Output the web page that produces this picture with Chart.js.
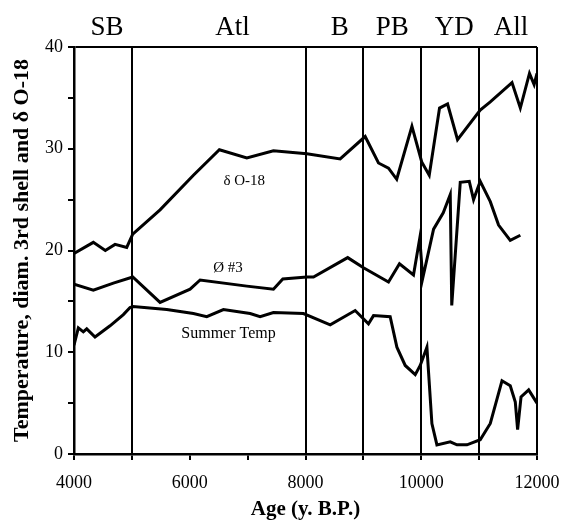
<!DOCTYPE html>
<html>
<head>
<meta charset="utf-8">
<script src="https://cdn.jsdelivr.net/npm/chart.js@4/dist/chart.umd.min.js"></script>
<style>
  html, body { margin: 0; padding: 0; background: #fff; }
  #wrap { width: 562px; height: 522px; position: relative; }
</style>
</head>
<body>
<div id="wrap"><canvas id="c" width="562" height="522"></canvas></div>
<script>
// ---- data ----
const o18Age  = [4000, 4334, 4541, 4709, 4911, 5015, 5487, 6063, 6512, 6986, 7446, 8023, 8599, 9031, 9261, 9434, 9576, 9839, 10008, 10138, 10316, 10455, 10627, 11019, 11193, 11568, 11712, 11870, 11950, 12000];
const o18Val  = [19.7, 20.8, 20.0, 20.6, 20.3, 21.6, 24.0, 27.4, 29.9, 29.1, 29.8, 29.5, 29.0, 31.2, 28.6, 28.1, 27.0, 32.2, 28.7, 27.4, 34.0, 34.4, 30.9, 33.8, 34.6, 36.5, 34.0, 37.4, 36.3, 37.4];

const diamAge = [4000, 4334, 4680, 5015, 5487, 6006, 6179, 6986, 7446, 7608, 8023, 8138, 8729, 9002, 9434, 9624, 9866, 9974, 10026, 10213, 10380, 10501, 10527, 10674, 10830, 10904, 11019, 11193, 11336, 11538, 11712];
const diamVal = [16.7, 16.1, 16.8, 17.4, 14.9, 16.2, 17.1, 16.5, 16.2, 17.2, 17.4, 17.4, 19.3, 18.3, 16.9, 18.7, 17.6, 21.2, 17.3, 22.1, 23.7, 25.5, 14.6, 26.7, 26.8, 25.0, 26.8, 24.8, 22.5, 21.0, 21.5];

const tempAge = [4000, 4075, 4161, 4220, 4363, 4623, 4853, 4968, 5020, 5603, 6063, 6294, 6582, 7043, 7216, 7446, 7965, 8427, 8858, 9088, 9175, 9463, 9579, 9723, 9896, 9982, 10098, 10184, 10271, 10501, 10617, 10790, 11019, 11193, 11395, 11538, 11625, 11665, 11724, 11856, 12000];
const tempVal = [10.7, 12.4, 12.0, 12.3, 11.5, 12.6, 13.7, 14.4, 14.5, 14.2, 13.8, 13.5, 14.2, 13.8, 13.5, 13.9, 13.8, 12.7, 14.1, 12.8, 13.6, 13.5, 10.5, 8.7, 7.8, 8.7, 10.5, 3.0, 0.9, 1.2, 0.9, 0.9, 1.4, 3.0, 7.2, 6.7, 5.1, 2.4, 5.6, 6.3, 5.0];

const seriesNames  = ['δ O-18', 'Ø #3', 'Summer Temp'];
const seriesLabelAge = [6941, 6660, 6670];
const seriesLabelVal = [26.8, 18.3, 11.85];

const periodNames  = ['SB', 'Atl', 'B', 'PB', 'YD', 'All'];
const periodLabelAge = [4570, 6740, 8590, 9500, 10570, 11550];
const periodBounds = [5000, 8000, 9000, 10000, 11000, 12000];

const xTickStep = 1000, xLabelStep = 2000;
const yTickStep = 5, yLabelStep = 10;
const xMin = 4000, xMax = 12000, yMin = 0, yMax = 40;

const xTitle = 'Age (y. B.P.)';
const yTitle = 'Temperature, diam. 3rd shell and δ O-18';

// ---- chart ----
const SERIF = "'Liberation Serif', 'Times New Roman', Times, serif";
Chart.defaults.font.family = SERIF;
Chart.defaults.color = '#000';

function pts(a, v) { return a.map((x, i) => ({ x: x, y: v[i] })); }

const lineStyle = { showLine: true, borderColor: '#000', borderWidth: 3, pointRadius: 0, tension: 0, fill: false, borderJoinStyle: 'miter', borderCapStyle: 'butt' };

const textPlugin = {
  id: 'texts',
  afterDatasetsDraw(chart) {
    const ctx = chart.ctx, xs = chart.scales.x, ys = chart.scales.y;
    ctx.save();
    ctx.fillStyle = '#000';
    ctx.textAlign = 'center';
    ctx.textBaseline = 'middle';
    seriesNames.forEach((n, i) => {
      ctx.font = (i === 2 ? '16px ' : '15px ') + SERIF;
      ctx.fillText(n, xs.getPixelForValue(seriesLabelAge[i]), ys.getPixelForValue(seriesLabelVal[i]));
    });
    ctx.font = '27px ' + SERIF;
    ctx.textBaseline = 'alphabetic';
    periodNames.forEach((n, i) => {
      ctx.fillText(n, xs.getPixelForValue(periodLabelAge[i]), chart.chartArea.top - 12);
    });
    ctx.restore();
  }
};

new Chart(document.getElementById('c'), {
  type: 'scatter',
  data: {
    datasets: [
      Object.assign({ label: seriesNames[0], data: pts(o18Age, o18Val) }, lineStyle),
      Object.assign({ label: seriesNames[1], data: pts(diamAge, diamVal) }, lineStyle),
      Object.assign({ label: seriesNames[2], data: pts(tempAge, tempVal) }, lineStyle)
    ]
  },
  options: {
    responsive: false,
    animation: false,
    devicePixelRatio: 1,
    layout: { padding: { top: 47, right: 25, left: 0, bottom: 0 } },
    plugins: { legend: { display: false }, tooltip: { enabled: false } },
    scales: {
      x: {
        type: 'linear', min: xMin, max: xMax,
        afterFit(s) { s.height = 68; s.paddingLeft = 0; s.paddingRight = 0; },
        ticks: {
          stepSize: xTickStep, autoSkip: false, maxRotation: 0, padding: 12,
          font: { size: 18 }, color: '#000',
          callback: v => (v % xLabelStep === 0 ? String(v) : '')
        },
        grid: {
          drawOnChartArea: true,
          color: c => (c.tick && periodBounds.includes(c.tick.value) ? '#000' : 'rgba(0,0,0,0)'),
          lineWidth: 2,
          tickColor: '#000', tickLength: 6, tickWidth: 2
        },
        border: { display: true, color: '#000', width: 2.5 },
        title: { display: true, text: xTitle, font: { size: 21, weight: 'bold' }, color: '#000', padding: { top: 0, bottom: 0 } }
      },
      y: {
        type: 'linear', min: yMin, max: yMax,
        afterFit(s) { s.width = 74; s.paddingTop = 0; s.paddingBottom = 0; },
        ticks: {
          stepSize: yTickStep, autoSkip: false, padding: 5,
          font: { size: 18 }, color: '#000',
          callback: v => (v % yLabelStep === 0 ? String(v) : '')
        },
        grid: {
          drawOnChartArea: true,
          color: c => (c.tick && c.tick.value === yMax ? '#000' : 'rgba(0,0,0,0)'),
          lineWidth: 2,
          tickColor: '#000', tickLength: 6, tickWidth: 2
        },
        border: { display: true, color: '#000', width: 2.5 },
        title: { display: true, text: yTitle, font: { size: 22, weight: 'bold' }, color: '#000', padding: { top: 9, bottom: 0 } }
      }
    }
  },
  plugins: [textPlugin]
});
</script>
</body>
</html>
